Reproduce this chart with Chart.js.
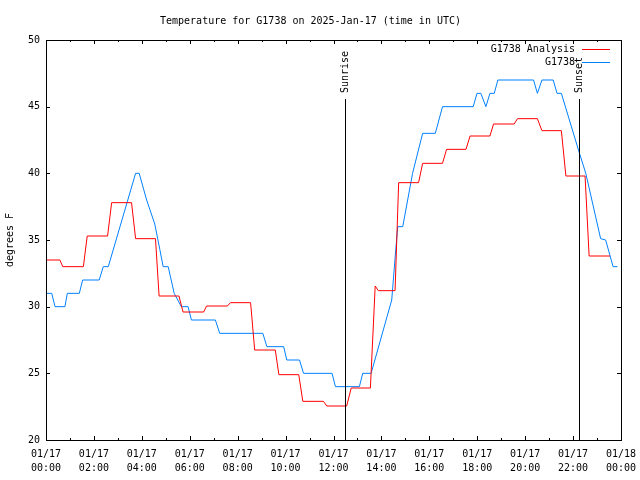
<!DOCTYPE html>
<html>
<head>
<meta charset="utf-8">
<title>Temperature for G1738</title>
<script src="https://cdn.jsdelivr.net/npm/chart.js@4.4.1/dist/chart.umd.min.js"></script>
<style>
  body { margin: 0; background: #fff; }
  canvas { display: block; }
</style>
</head>
<body>
<canvas id="tempChart" width="640" height="480"></canvas>
<script>
// hours since 01/17 00:00 UTC
const analysisHours = [0, 0.58, 0.7, 1.56, 1.72, 2.57, 2.74, 3.57, 3.74, 4.57, 4.72, 5.55, 5.72, 6.58,
    6.7, 7.57, 7.7, 8.54, 8.71, 9.57, 9.72, 10.55, 10.72, 11.58, 11.72, 12.55, 12.74, 13.54,
    13.74, 13.87, 14.57, 14.72, 15.55, 15.72, 16.55, 16.72, 17.53, 17.7, 18.53, 18.68, 19.54,
    19.68, 20.51, 20.7, 21.51, 21.7, 22.5, 22.67, 23.54];
const analysisTemps = [33.5, 33.5, 33.0, 33.0, 35.3, 35.3, 37.8, 37.8, 35.1, 35.1, 30.8, 30.8, 29.6, 29.6,
    30.05, 30.05, 30.3, 30.3, 26.75, 26.75, 24.9, 24.9, 22.9, 22.9, 22.55, 22.55, 23.9, 23.9,
    31.55, 31.2, 31.2, 39.3, 39.3, 40.75, 40.75, 41.8, 41.8, 42.8, 42.8, 43.7, 43.7,
    44.1, 44.1, 43.2, 43.2, 39.8, 39.8, 33.8, 33.8];

const obsHours = [0, 0.24, 0.375, 0.79, 0.89, 1.39, 1.53, 2.22, 2.39, 2.6, 3.74, 3.89, 4.2, 4.54, 4.75,
    4.89, 5.1, 5.35, 5.65, 5.93, 6.07, 7.07, 7.25, 9.05, 9.22, 9.92, 10.05, 10.58, 10.75, 11.94,
    12.08, 13.08, 13.22, 13.57, 14.43, 14.6, 14.68, 14.89, 15.3, 15.72, 16.25, 16.55, 17.83, 17.99,
    18.15, 18.36, 18.53, 18.71, 18.86, 20.35, 20.51, 20.7, 21.17, 21.33, 21.51, 22.25, 22.53, 23.15,
    23.36, 23.67, 23.85];
const obsTemps = [31, 31, 30, 30, 31, 31, 32, 32, 33, 33, 40, 40, 38, 36.2, 34.3,
    33, 33, 31, 30, 30, 29, 29, 28, 28, 27, 27, 26, 26, 25, 25,
    24, 24, 25, 25, 30.5, 34.3, 36, 36, 40, 43, 43, 45, 45, 46,
    46, 45, 46, 46, 47, 47, 46, 47, 47, 46, 46, 41.6, 40, 35.1,
    35, 33, 33];

const xTickDates = ['01/17', '01/17', '01/17', '01/17', '01/17', '01/17', '01/17',
    '01/17', '01/17', '01/17', '01/17', '01/17', '01/18'];
const xTickTimes = ['00:00', '02:00', '04:00', '06:00', '08:00', '10:00', '12:00',
    '14:00', '16:00', '18:00', '20:00', '22:00', '00:00'];

const sunEvents = ['Sunrise', 'Sunset'];
const sunHours = [12.46, 22.25];

const MONO = '"DejaVu Sans Mono", "Liberation Mono", monospace';

function toPoints(xs, ys) {
    return xs.map((h, i) => ({ x: h, y: ys[i] }));
}

// frame, inward ticks, sun markers, legend and y title
const gnuplotLook = {
    id: 'gnuplotLook',
    afterDraw(chart) {
        const { ctx, chartArea: a, scales: { x, y } } = chart;
        ctx.save();
        ctx.strokeStyle = '#000';
        ctx.fillStyle = '#000';
        ctx.lineWidth = 1;

        ctx.strokeRect(a.left + 0.5, a.top + 0.5, a.right - a.left, a.bottom - a.top);

        ctx.beginPath();
        for (let h = 0; h <= 24; h++) {
            const len = h % 2 ? 2 : 4;
            const px = Math.round(x.getPixelForValue(h)) + 0.5;
            ctx.moveTo(px, a.bottom); ctx.lineTo(px, a.bottom - len);
            ctx.moveTo(px, a.top); ctx.lineTo(px, a.top + len);
        }
        for (let t = 20; t <= 50; t += 5) {
            const py = Math.round(y.getPixelForValue(t)) + 0.5;
            ctx.moveTo(a.left, py); ctx.lineTo(a.left + 4, py);
            ctx.moveTo(a.right, py); ctx.lineTo(a.right - 4, py);
        }
        ctx.stroke();

        ctx.font = '10px ' + MONO;
        sunEvents.forEach((name, i) => {
            const px = Math.round(x.getPixelForValue(sunHours[i])) + 0.5;
            const top = Math.round(y.getPixelForValue(45.6));
            ctx.beginPath();
            ctx.moveTo(px, a.bottom);
            ctx.lineTo(px, top);
            ctx.stroke();
            ctx.save();
            ctx.translate(px, top - 6);
            ctx.rotate(-Math.PI / 2);
            ctx.textAlign = 'left';
            ctx.textBaseline = 'middle';
            ctx.fillText(name, 0, 0);
            ctx.restore();
        });

        // legend
        ctx.textAlign = 'right';
        ctx.textBaseline = 'middle';
        chart.data.datasets.forEach((ds, i) => {
            const ly = 49.5 + i * 13;
            ctx.fillStyle = '#000';
            ctx.fillText(ds.label, 575, ly);
            ctx.strokeStyle = ds.borderColor;
            ctx.beginPath();
            ctx.moveTo(582, ly);
            ctx.lineTo(610, ly);
            ctx.stroke();
        });

        ctx.fillStyle = '#000';
        ctx.translate(10, 240);
        ctx.rotate(-Math.PI / 2);
        ctx.textAlign = 'center';
        ctx.fillText('degrees F', 0, 0);
        ctx.restore();
    }
};

const ctx = document.getElementById('tempChart').getContext('2d');
const tempChart = new Chart(ctx, {
    type: 'line',
    data: {
        datasets: [{
            label: 'G1738 Analysis',
            data: toPoints(analysisHours, analysisTemps),
            borderColor: 'rgb(255, 0, 0)',
            borderWidth: 1,
            pointRadius: 0,
            tension: 0
        }, {
            label: 'G1738',
            data: toPoints(obsHours, obsTemps),
            borderColor: 'rgb(0, 128, 255)',
            borderWidth: 1,
            pointRadius: 0,
            tension: 0
        }]
    },
    options: {
        responsive: false,
        animation: false,
        layout: { padding: { left: 0, right: 19, top: 0, bottom: 0 } },
        plugins: {
            legend: { display: false },
            tooltip: { enabled: false },
            title: {
                display: true,
                text: 'Temperature for G1738 on 2025-Jan-17 (time in UTC)',
                color: '#000',
                font: { family: MONO, size: 10, weight: 'normal', lineHeight: 1.2 },
                padding: { top: 15, bottom: 13 }
            }
        },
        scales: {
            x: {
                type: 'linear',
                min: 0,
                max: 24,
                afterFit(scale) {
                    scale.height = 40;
                    scale.paddingLeft = 0;
                    scale.paddingRight = 0;
                },
                grid: { display: false, drawTicks: false },
                border: { display: false },
                ticks: {
                    stepSize: 2,
                    autoSkip: false,
                    maxRotation: 0,
                    padding: 7,
                    color: '#000',
                    font: { family: MONO, size: 10, lineHeight: 1.4 },
                    callback: v => [xTickDates[v / 2], xTickTimes[v / 2]]
                }
            },
            y: {
                min: 20,
                max: 50,
                afterFit(scale) {
                    scale.width = 46;
                    scale.paddingTop = 0;
                    scale.paddingBottom = 0;
                },
                grid: { display: false, drawTicks: false },
                border: { display: false },
                ticks: {
                    stepSize: 5,
                    padding: 6,
                    color: '#000',
                    font: { family: MONO, size: 10 }
                }
            }
        }
    },
    plugins: [gnuplotLook]
});
</script>
</body>
</html>
